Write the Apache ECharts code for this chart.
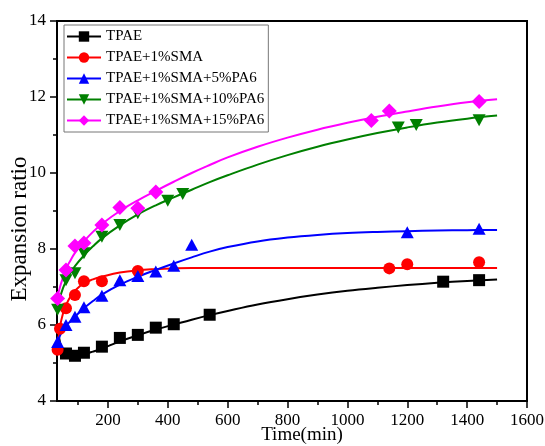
<!DOCTYPE html>
<html>
<head>
<meta charset="utf-8">
<script src="https://cdn.jsdelivr.net/npm/echarts@6/dist/echarts.min.js"></script>
<style>
html,body{margin:0;padding:0;background:#fff}
#chart{width:545px;height:446px}
</style>
</head>
<body>
<div id="chart"></div>
<script>
// measured points (time in min, expansion ratio)
var tpaeT = [60, 90, 120, 180, 240, 300, 360, 420, 540, 1320, 1440];
var tpaeY = [5.25, 5.19, 5.27, 5.43, 5.66, 5.74, 5.93, 6.02, 6.27, 7.14, 7.18];
var smaT = [32, 40, 60, 90, 120, 180, 300, 1140, 1200, 1440];
var smaY = [5.35, 5.9, 6.44, 6.79, 7.15, 7.15, 7.42, 7.49, 7.6, 7.65];
var pa5T = [32, 60, 90, 120, 180, 240, 300, 360, 420, 480, 1200, 1440];
var pa5Y = [5.55, 6.0, 6.22, 6.47, 6.77, 7.18, 7.29, 7.41, 7.56, 8.11, 8.44, 8.53];
var pa10T = [32, 60, 90, 120, 180, 240, 300, 400, 450, 1170, 1230, 1440];
var pa10Y = [6.4, 7.18, 7.36, 7.89, 8.32, 8.63, 8.94, 9.27, 9.45, 11.2, 11.26, 11.39];
var pa15T = [32, 60, 90, 120, 180, 240, 300, 360, 1080, 1140, 1440];
var pa15Y = [6.7, 7.45, 8.08, 8.16, 8.63, 9.09, 9.07, 9.5, 11.38, 11.63, 11.88];

// fitted curves
var fitT = [30, 40, 50, 60, 75, 90, 120, 150, 180, 240, 300, 360, 420, 480, 540, 600, 700, 800, 900, 1000, 1100, 1200, 1300, 1400, 1500];
var fitTpae = [6.05, 5.55, 5.3, 5.22, 5.19, 5.19, 5.23, 5.3, 5.38, 5.57, 5.73, 5.88, 6.01, 6.14, 6.26, 6.37, 6.54, 6.68, 6.8, 6.9, 6.98, 7.05, 7.11, 7.16, 7.2];
var fitSma = [5.3, 5.95, 6.3, 6.52, 6.75, 6.9, 7.1, 7.2, 7.27, 7.38, 7.44, 7.47, 7.49, 7.5, 7.5, 7.5, 7.5, 7.5, 7.5, 7.5, 7.5, 7.5, 7.5, 7.5, 7.5];
var fitPa5 = [5.5, 5.72, 5.87, 5.98, 6.1, 6.22, 6.44, 6.63, 6.8, 7.06, 7.27, 7.45, 7.62, 7.78, 7.93, 8.05, 8.2, 8.3, 8.37, 8.42, 8.45, 8.47, 8.485, 8.495, 8.5];
var fitPa10 = [6.4, 6.72, 6.97, 7.15, 7.37, 7.55, 7.83, 8.07, 8.28, 8.62, 8.91, 9.15, 9.36, 9.56, 9.76, 9.94, 10.22, 10.47, 10.69, 10.88, 11.05, 11.2, 11.33, 11.43, 11.51];
var fitPa15 = [6.68, 7.0, 7.25, 7.48, 7.7, 7.9, 8.2, 8.45, 8.66, 9.0, 9.28, 9.53, 9.77, 10.0, 10.21, 10.41, 10.69, 10.93, 11.14, 11.32, 11.48, 11.62, 11.75, 11.86, 11.94];

var names = ['TPAE', 'TPAE+1%SMA', 'TPAE+1%SMA+5%PA6', 'TPAE+1%SMA+10%PA6', 'TPAE+1%SMA+15%PA6'];
var xLabels = [200, 400, 600, 800, 1000, 1200, 1400, 1600];
var xMinor = [100, 300, 500, 700, 900, 1100, 1300, 1500];

var pointsT = [tpaeT, smaT, pa5T, pa10T, pa15T];
var pointsY = [tpaeY, smaY, pa5Y, pa10Y, pa15Y];
var fits = [fitTpae, fitSma, fitPa5, fitPa10, fitPa15];

var colors = ['#000000', '#ff0000', '#0000ff', '#008000', '#ff00ff'];
var symbols = ['rect', 'circle', 'triangle', 'triangle', 'diamond'];
var symSizes = [[12, 12], [12, 12], [13, 12], [13, 12], [15, 15]];
var symRotate = [0, 0, 0, 180, 0];

function pairs(xs, ys) {
    var out = [];
    for (var i = 0; i < xs.length; i++) out.push([xs[i], ys[i]]);
    return out;
}

var FONT = '"Liberation Serif", "Times New Roman", serif';
var series = [];
for (var i = 0; i < names.length; i++) {
    series.push({
        name: names[i],
        type: 'line',
        z: 4,
        data: pairs(pointsT[i], pointsY[i]),
        symbol: symbols[i],
        symbolSize: symSizes[i],
        symbolRotate: symRotate[i],
        itemStyle: { color: colors[i] },
        lineStyle: { color: colors[i], width: 2, opacity: 0 },
        silent: true
    });
}
for (var i = 0; i < names.length; i++) {
    series.push({
        name: names[i],
        type: 'line',
        z: 2,
        data: pairs(fitT, fits[i]),
        showSymbol: false,
        smooth: 0.4,
        lineStyle: { color: colors[i], width: 2 },
        itemStyle: { color: colors[i] },
        silent: true
    });
}

// grid 0 holds the data, grids 1 and 2 only carry tick marks
function box(extra) {
    var g = { left: 57, right: 18, top: 21, bottom: 45, containLabel: false };
    return echarts.util.extend(g, extra || {});
}
var tickStyle = { color: '#000', width: 1.5 };

var chart = echarts.init(document.getElementById('chart'));
chart.setOption({
    animation: false,
    backgroundColor: '#fff',
    grid: [box({ outerBoundsMode: 'none', show: true, borderColor: '#000', borderWidth: 2 }), box(), box()],
    legend: {
        data: names,
        orient: 'vertical',
        left: 64,
        top: 25,
        itemWidth: 34,
        itemHeight: 13,
        itemGap: 6,
        itemTextGap: 1,
        padding: [4, 4, 4, 2],
        borderColor: '#777',
        borderWidth: 1,
        lineStyle: { opacity: 1, width: 2 },
        textStyle: { fontFamily: FONT, fontSize: 15, color: '#000' }
    },
    xAxis: [{
        type: 'value',
        gridIndex: 0,
        min: 30,
        max: 1600,
        name: 'Time(min)',
        nameLocation: 'middle',
        nameGap: 25,
        nameMoveOverlap: false,
        nameTextStyle: { fontFamily: FONT, fontSize: 19, color: '#000', padding: [0, 0, 0, 20] },
        axisLine: { show: true, onZero: false, lineStyle: { color: '#000', width: 2 } },
        axisTick: { show: false },
        axisLabel: { customValues: xLabels, fontFamily: FONT, fontSize: 17, color: '#000', margin: 11,
            formatter: function (v) { return String(v); } },
        splitLine: { show: false }
    }, {
        type: 'value',
        gridIndex: 1,
        min: 30,
        max: 1600,
        axisLine: { show: false, onZero: false },
        axisTick: { show: true, customValues: xMinor, length: 4, lineStyle: tickStyle },
        axisLabel: { show: false },
        splitLine: { show: false }
    }, {
        type: 'value',
        gridIndex: 2,
        min: 30,
        max: 1600,
        axisLine: { show: false, onZero: false },
        axisTick: { show: true, customValues: xLabels, length: 7, lineStyle: tickStyle },
        axisLabel: { show: false },
        splitLine: { show: false }
    }],
    yAxis: [{
        type: 'value',
        gridIndex: 0,
        min: 4,
        max: 14,
        interval: 2,
        name: 'Expansion ratio',
        nameLocation: 'middle',
        nameGap: 26,
        nameMoveOverlap: false,
        nameTextStyle: { fontFamily: FONT, fontSize: 23, color: '#000', padding: [0, 36, 0, 0] },
        axisLine: { show: true, onZero: false, lineStyle: { color: '#000', width: 2 } },
        axisTick: { show: false },
        axisLabel: { fontFamily: FONT, fontSize: 17, color: '#000', margin: 11 },
        splitLine: { show: false }
    }, {
        type: 'value',
        gridIndex: 1,
        min: 4,
        max: 14,
        interval: 2,
        axisLine: { show: false, onZero: false },
        axisTick: { show: true, length: 7, lineStyle: tickStyle },
        minorTick: { show: true, splitNumber: 2, length: 4, lineStyle: tickStyle },
        axisLabel: { show: false },
        splitLine: { show: false },
        minorSplitLine: { show: false }
    }, {
        type: 'value',
        gridIndex: 2,
        min: 4,
        max: 14,
        show: false
    }],
    series: series
});
</script>
</body>
</html>
